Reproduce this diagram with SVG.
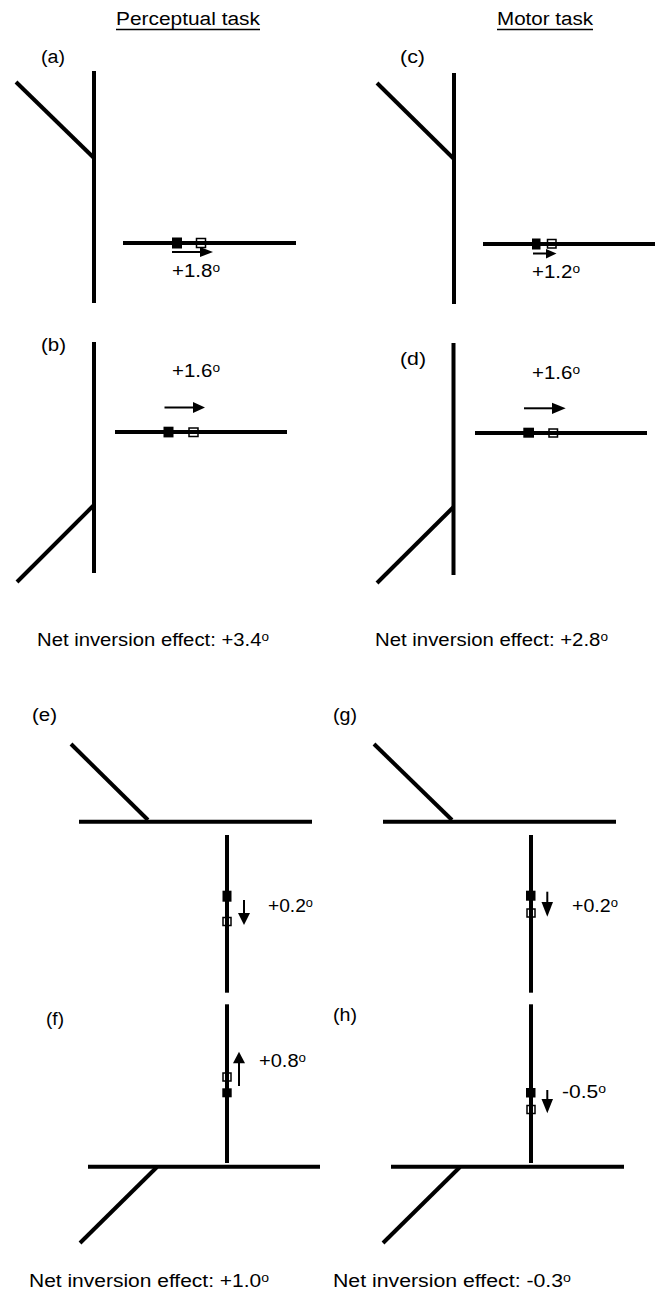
<svg xmlns="http://www.w3.org/2000/svg" width="660" height="1301" viewBox="0 0 660 1301">
<defs>
<style>
.ln{stroke:#000;stroke-width:4;fill:none}
.ar{stroke:#000;stroke-width:2;fill:none}
.fs{fill:#000}
.os{fill:none;stroke:#000;stroke-width:1.5}
.ah{fill:#000}
text{font-family:"Liberation Sans",Arial,sans-serif;font-size:18px;fill:#000}
.sup{font-size:12px}
.ul{stroke:#000;stroke-width:1.3}
</style>
</defs>
<rect width="660" height="1301" fill="#fff"/>
<g id="headers">
<text x="116" y="25" textLength="144" lengthAdjust="spacingAndGlyphs">Perceptual task</text>
<line class="ul" x1="116" y1="29.5" x2="260" y2="29.5"/>
<text x="497" y="25" textLength="96" lengthAdjust="spacingAndGlyphs">Motor task</text>
<line class="ul" x1="497" y1="29.5" x2="593" y2="29.5"/>
</g>
<g id="panel-a">
<text x="41" y="63" textLength="24" lengthAdjust="spacingAndGlyphs">(a)</text>
<line class="ln" x1="94" y1="71" x2="94" y2="303"/>
<line class="ln" x1="16" y1="82" x2="94" y2="158"/>
<line class="ln" x1="123" y1="243" x2="296" y2="243"/>
<rect class="fs" x="172" y="237.5" width="10" height="11"/>
<rect class="os" x="196.5" y="238.5" width="9" height="9"/>
<line class="ar" x1="172" y1="252" x2="202" y2="252"/>
<polygon class="ah" points="200,247 213,252 200,257"/>
<text x="172" y="277" textLength="48" lengthAdjust="spacingAndGlyphs">+1.8<tspan class="sup" dy="-5.5">o</tspan></text>
</g>
<g id="panel-b">
<text x="41" y="351" textLength="25" lengthAdjust="spacingAndGlyphs">(b)</text>
<line class="ln" x1="94" y1="342" x2="94" y2="573"/>
<line class="ln" x1="94" y1="505" x2="17" y2="582"/>
<line class="ln" x1="115" y1="432" x2="287" y2="432"/>
<rect class="fs" x="163.5" y="426.7" width="10" height="10.7"/>
<rect class="os" x="189" y="428" width="9" height="8.5"/>
<line class="ar" x1="164.5" y1="407.5" x2="195" y2="407.5"/>
<polygon class="ah" points="193,402 205,407.5 193,413"/>
<text x="172" y="377" textLength="48" lengthAdjust="spacingAndGlyphs">+1.6<tspan class="sup" dy="-5.5">o</tspan></text>
</g>
<g id="panel-c">
<text x="400" y="62.5" textLength="25" lengthAdjust="spacingAndGlyphs">(c)</text>
<line class="ln" x1="454" y1="73" x2="454" y2="304"/>
<line class="ln" x1="377" y1="83" x2="454" y2="159"/>
<line class="ln" x1="483" y1="244" x2="655" y2="244"/>
<rect class="fs" x="532" y="238.5" width="8.5" height="11"/>
<rect class="os" x="547.5" y="239.5" width="8.5" height="8.5"/>
<line class="ar" x1="533" y1="253.5" x2="548" y2="253.5"/>
<polygon class="ah" points="546,249 556.5,253.5 546,258.5"/>
<text x="532" y="278" textLength="48" lengthAdjust="spacingAndGlyphs">+1.2<tspan class="sup" dy="-5.5">o</tspan></text>
</g>
<g id="panel-d">
<text x="400" y="364.5" textLength="26" lengthAdjust="spacingAndGlyphs">(d)</text>
<line class="ln" x1="453.5" y1="343" x2="453.5" y2="575"/>
<line class="ln" x1="453.5" y1="507" x2="377" y2="583"/>
<line class="ln" x1="475" y1="433" x2="647" y2="433"/>
<rect class="fs" x="523.3" y="427.7" width="10.7" height="10"/>
<rect class="os" x="549" y="429" width="8.5" height="8"/>
<line class="ar" x1="524" y1="408.3" x2="554" y2="408.3"/>
<polygon class="ah" points="552,402.8 565.7,408.3 552,414"/>
<text x="532" y="379" textLength="48" lengthAdjust="spacingAndGlyphs">+1.6<tspan class="sup" dy="-5.5">o</tspan></text>
</g>
<g id="net-top">
<text x="37" y="646" textLength="232" lengthAdjust="spacingAndGlyphs">Net inversion effect: +3.4<tspan class="sup" dy="-5.5">o</tspan></text>
<text x="375" y="646" textLength="233" lengthAdjust="spacingAndGlyphs">Net inversion effect: +2.8<tspan class="sup" dy="-5.5">o</tspan></text>
</g>
<g id="panel-e">
<text x="32" y="721" textLength="25" lengthAdjust="spacingAndGlyphs">(e)</text>
<line class="ln" x1="71" y1="744" x2="148" y2="820"/>
<line class="ln" x1="79" y1="821.7" x2="312" y2="821.7"/>
<line class="ln" x1="227" y1="835" x2="227" y2="992.7"/>
<rect class="fs" x="222.5" y="890.7" width="9" height="11"/>
<rect class="os" x="223" y="917.5" width="8" height="8"/>
<line class="ar" x1="244" y1="900" x2="244" y2="915"/>
<polygon class="ah" points="238,913 244,925 250,913"/>
<text x="268" y="912" textLength="45" lengthAdjust="spacingAndGlyphs">+0.2<tspan class="sup" dy="-5.5">o</tspan></text>
</g>
<g id="panel-f">
<text x="46" y="1024.5" textLength="18" lengthAdjust="spacingAndGlyphs">(f)</text>
<line class="ln" x1="227" y1="1004.3" x2="227" y2="1163"/>
<line class="ln" x1="88" y1="1166.7" x2="320" y2="1166.7"/>
<line class="ln" x1="157" y1="1167" x2="80" y2="1243"/>
<rect class="os" x="223" y="1073" width="8" height="8"/>
<rect class="fs" x="222.3" y="1088.3" width="9.4" height="9"/>
<line class="ar" x1="239" y1="1086" x2="239" y2="1061"/>
<polygon class="ah" points="233,1063.3 239,1051.7 245,1063.3"/>
<text x="259" y="1067" textLength="47" lengthAdjust="spacingAndGlyphs">+0.8<tspan class="sup" dy="-5.5">o</tspan></text>
</g>
<g id="panel-g">
<text x="333" y="721" textLength="24" lengthAdjust="spacingAndGlyphs">(g)</text>
<line class="ln" x1="374" y1="744" x2="452" y2="820"/>
<line class="ln" x1="383" y1="821.7" x2="616" y2="821.7"/>
<line class="ln" x1="531" y1="835" x2="531" y2="992.7"/>
<rect class="fs" x="526" y="890.7" width="9.5" height="10"/>
<rect class="os" x="527" y="909" width="8" height="8"/>
<line class="ar" x1="547.3" y1="891.7" x2="547.3" y2="904"/>
<polygon class="ah" points="541.5,902 547.3,916.7 553,902"/>
<text x="572" y="912" textLength="46" lengthAdjust="spacingAndGlyphs">+0.2<tspan class="sup" dy="-5.5">o</tspan></text>
</g>
<g id="panel-h">
<text x="333" y="1021" textLength="24" lengthAdjust="spacingAndGlyphs">(h)</text>
<line class="ln" x1="531" y1="1004.3" x2="531" y2="1163"/>
<line class="ln" x1="391" y1="1166.7" x2="624" y2="1166.7"/>
<line class="ln" x1="460" y1="1167" x2="383" y2="1243"/>
<rect class="fs" x="526" y="1088" width="9.5" height="9.5"/>
<rect class="os" x="527" y="1105.5" width="8" height="8"/>
<line class="ar" x1="547.3" y1="1090" x2="547.3" y2="1101"/>
<polygon class="ah" points="541.5,1099 547.3,1113.3 553,1099"/>
<text x="562" y="1098" textLength="44" lengthAdjust="spacingAndGlyphs">-0.5<tspan class="sup" dy="-5.5">o</tspan></text>
</g>
<g id="net-bottom">
<text x="29" y="1287" textLength="240" lengthAdjust="spacingAndGlyphs">Net inversion effect: +1.0<tspan class="sup" dy="-5.5">o</tspan></text>
<text x="333" y="1287" textLength="238" lengthAdjust="spacingAndGlyphs">Net inversion effect: -0.3<tspan class="sup" dy="-5.5">o</tspan></text>
</g>
</svg>
